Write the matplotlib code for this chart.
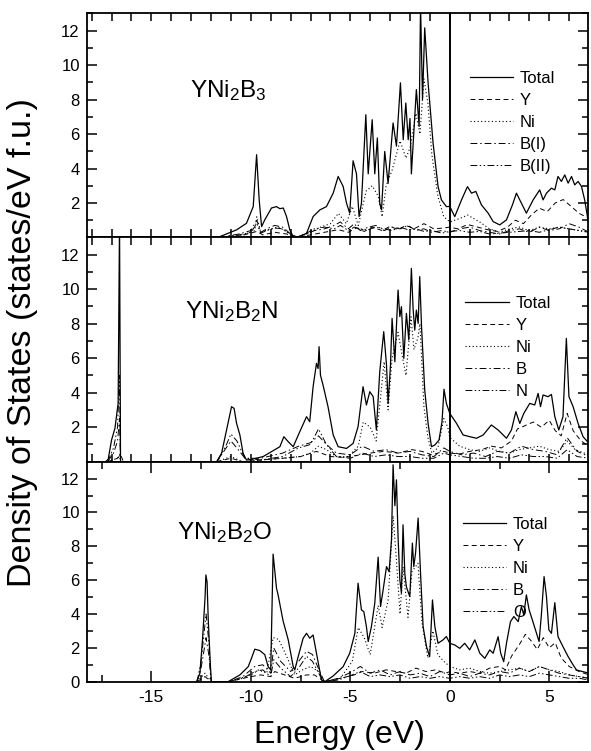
import matplotlib
matplotlib.use('Agg')
import matplotlib.pyplot as plt
from matplotlib.ticker import MultipleLocator

plt.rcParams['font.family'] = ['Liberation Sans', 'DejaVu Sans']
plt.rcParams['mathtext.fontset'] = 'custom'
plt.rcParams['mathtext.rm'] = 'Liberation Sans'
plt.rcParams['mathtext.it'] = 'Liberation Sans'
plt.rcParams['axes.unicode_minus'] = False

# ---------------- YNi2B3 ----------------
e_tot_a = [-11.66, -10.72, -10.22, -9.88, -9.71, -9.58, -9.46, -9.30, -8.96, -8.71, -8.54, -8.37, -8.21,
           -8.04, -7.87, -7.7, -7.2, -6.87, -6.53, -6.2, -5.86, -5.61, -5.36, -5.19, -5.03, -4.86, -4.69,
           -4.56, -4.44, -4.22, -4.1, -3.9, -3.77, -3.64, -3.52, -3.43, -3.27, -3.1, -2.85, -2.68, -2.48,
           -2.34, -2.21, -2.09, -2.0, -1.93, -1.68, -1.54, -1.47, -1.37, -1.26, -1.09, -0.84, -0.59, -0.42,
           -0.17, 0.0, 0.25, 0.59, 0.89, 1.09, 1.31, 1.59, 1.93, 2.18, 2.51, 2.85, 3.15, 3.35, 3.6, 3.85,
           4.19, 4.52, 4.69, 4.86, 5.11, 5.28, 5.44, 5.61, 5.78, 5.95, 6.12, 6.28, 6.45, 6.62, 6.78, 6.95]
tot_a = [0, 0.44, 0.82, 1.79, 4.8, 2.18, 0.63, 1.02, 1.71, 1.79, 1.67, 1.71, 1.23,
         0.44, 0.05, 0.0, 0.24, 1.21, 1.6, 1.79, 2.57, 3.54, 2.96, 1.99, 1.41, 4.45, 3.69,
         1.21, 1.99, 7.12, 3.69, 6.83, 3.69, 5.77, 1.99, 1.6, 4.99, 3.14, 6.64, 5.3, 8.97,
         5.67, 7.8, 5.67, 6.9, 3.69, 8.58, 6.44, 13.5, 8.0, 12.16, 8.97, 5.48, 2.96, 2.18,
         1.79, 1.8, 1.21, 2.18, 2.95, 2.57, 2.67, 1.89, 1.41, 0.92, 0.73, 1.02, 1.89, 2.57, 1.99, 1.41,
         2.18, 2.76, 2.18, 2.57, 2.86, 2.76, 3.54, 3.25, 3.63, 3.15, 3.54, 3.05, 3.25, 2.96, 2.18, 1.0]

e_y_a = [-11.6, -10.5, -9.7, -9.4, -8.8, -8.2, -7.8, -7.0, -6.3, -5.6, -5.1, -4.7, -4.3, -3.9, -3.4,
         -3.0, -2.6, -2.2, -1.8, -1.3, -0.8, -0.3, 0.0, 0.4, 0.9, 1.4, 1.9, 2.4, 2.9, 3.3, 3.7, 4.1,
         4.5, 4.9, 5.3, 5.7, 6.1, 6.5, 7.0]
y_a = [0, 0.1, 0.35, 0.15, 0.3, 0.2, 0, 0.15, 0.3, 0.45, 0.3, 0.55, 0.35, 0.6, 0.4,
       0.65, 0.45, 0.7, 0.5, 0.8, 0.5, 0.55, 0.6, 0.5, 0.75, 0.6, 0.45, 0.35, 0.6, 1.0, 0.8, 1.3,
       1.7, 1.5, 2.0, 2.2, 1.8, 1.4, 1.1]

e_ni_a = [-11.6, -10.5, -9.8, -9.7, -9.5, -9.0, -8.6, -8.0, -7.6, -7.0, -6.5, -6.0, -5.6, -5.2, -4.9,
          -4.6, -4.2, -3.9, -3.6, -3.4, -3.2, -2.9, -2.5, -2.2, -2.0, -1.7, -1.5, -1.3, -1.1, -0.9,
          -0.6, -0.3, 0.0, 0.5, 0.9, 1.5, 2.0, 2.5, 3.0, 3.5, 4.0, 4.5, 5.0, 5.5, 6.0, 6.5, 7.0]
ni_a = [0, 0.1, 0.4, 1.2, 0.3, 0.5, 0.6, 0.2, 0, 0.3, 0.6, 0.8, 1.4, 0.8, 1.8,
        0.7, 2.7, 3.0, 2.4, 1.2, 3.0, 3.9, 5.6, 4.6, 5.2, 7.2, 6.0, 9.2, 7.8, 4.8,
        2.4, 1.2, 0.9, 1.1, 1.3, 0.9, 0.5, 0.3, 0.5, 0.6, 0.4, 0.6, 0.5, 0.6, 0.5, 0.4, 0.3]

e_b_a = [-11.6, -10.6, -10.0, -9.7, -9.5, -9.2, -8.8, -8.4, -8.0, -7.7, -7.2, -6.8, -6.3, -5.8, -5.5,
         -5.1, -4.8, -4.5, -4.1, -3.7, -3.3, -2.9, -2.5, -2.1, -1.7, -1.3, -0.9, -0.4, 0.0, 0.5, 1.0,
         1.5, 2.0, 2.5, 3.0, 3.5, 4.0, 4.5, 5.0, 5.5, 6.0, 6.5, 7.0]
b1_a = [0, 0.2, 0.4, 1.0, 0.3, 0.5, 0.7, 0.6, 0.2, 0, 0.2, 0.4, 0.5, 0.7, 0.9,
        0.5, 0.8, 0.4, 0.6, 0.7, 0.4, 0.6, 0.5, 0.7, 0.4, 0.5, 0.3, 0.4, 0.3, 0.5, 0.6,
        0.4, 0.3, 0.2, 0.4, 0.5, 0.3, 0.6, 0.4, 0.5, 0.8, 0.6, 0.3]
b2_a = [0, 0.15, 0.3, 0.8, 0.25, 0.4, 0.55, 0.5, 0.15, 0, 0.25, 0.5, 0.6, 0.5, 0.7,
        0.4, 0.6, 0.5, 0.45, 0.6, 0.5, 0.4, 0.6, 0.45, 0.5, 0.35, 0.4, 0.25, 0.35, 0.4, 0.3,
        0.35, 0.2, 0.25, 0.3, 0.35, 0.4, 0.3, 0.45, 0.6, 0.5, 0.4, 0.3]

# ---------------- YNi2B2N ----------------
e_tot_b = [-17.3, -17.17, -17.0, -16.83, -16.67, -16.6, -16.55, -11.72, -11.47, -11.22, -10.97, -10.84,
           -10.72, -10.55, -10.39, -10.22, -9.9, -9.38, -8.54, -8.34, -8.12, -7.87, -7.54, -7.2, -7.04,
           -6.87, -6.7, -6.62, -6.57, -6.5, -6.37, -6.12, -5.86, -5.61, -5.19, -4.86, -4.61, -4.36, -4.19,
           -4.02, -3.85, -3.69, -3.52, -3.32, -3.18, -3.1, -2.98, -2.9, -2.76, -2.6, -2.51, -2.43, -2.31,
           -2.18, -2.06, -1.93, -1.84, -1.76, -1.68, -1.59, -1.51, -1.42, -1.26, -1.09, -0.92, -0.75,
           -0.54, -0.39, -0.29, -0.17, 0.0, 0.34, 0.67, 1.01, 1.34, 1.68, 2.09, 2.43, 2.85, 3.1, 3.32,
           3.52, 3.72, 4.02, 4.27, 4.44, 4.56, 4.69, 4.94, 5.11, 5.28, 5.48, 5.69, 5.86, 5.99, 6.2,
           6.45, 6.7, 7.0]
tot_b = [0, 0.14, 1.26, 1.94, 3.39, 14, 0, 0, 0.49, 1.84, 3.19, 3.09,
         2.24, 1.55, 0.49, 0.1, 0.15, 0.3, 0.87, 1.45, 1.16, 0.87, 1.74, 2.61, 2.32,
         4.35, 5.7, 5.4, 6.67, 5.02, 4.44, 3.19, 1.55, 0.87, 0.77, 1.06, 2.03, 4.35, 3.29,
         4.06, 3.77, 1.84, 5.21, 7.54, 5.6, 3.38, 5.6, 8.31, 5.79, 9.95, 8.41, 8.99, 5.99,
         8.6, 7.06, 11.21, 8.79, 7.63, 8.79, 8.02, 10.73, 7.83, 4.16, 2.22, 0.87, 0.97,
         1.26, 2.32, 4.2, 3.38, 2.8, 2.22, 1.55, 1.45, 1.36, 1.55, 2.13, 1.84, 1.36, 1.84, 2.9,
         2.22, 2.8, 3.38, 3.29, 3.96, 3.19, 3.87, 3.77, 3.9, 2.61, 1.84, 2.61, 7.15, 3.77, 3.19,
         2.22, 1.45, 1.06]

e_y_b = [-17.2, -16.7, -16.55, -16.4, -11.7, -11.0, -10.4, -9.5, -8.4, -7.5, -6.7, -6.0, -5.3, -4.5,
         -4.0, -3.3, -2.6, -1.9, -1.4, -0.9, -0.3, 0.0, 0.5, 1.0, 1.6, 2.1, 2.6, 3.1, 3.4, 3.8, 4.2,
         4.6, 5.0, 5.3, 5.6, 5.9, 6.2, 6.6, 7.0]
y_b = [0, 0.2, 0.4, 0, 0, 0.2, 0, 0.1, 0.2, 0.3, 0.6, 0.3, 0.25, 0.4,
       0.5, 0.6, 0.5, 0.7, 0.6, 0.4, 0.6, 0.5, 0.45, 0.6, 0.7, 0.9, 0.8, 1.2, 1.9, 2.1, 2.3,
       2.0, 2.4, 1.8, 1.5, 2.8, 1.8, 1.2, 0.9]

e_ni_b = [-17.2, -16.7, -16.6, -16.55, -11.7, -11.0, -10.4, -9.5, -8.4, -7.5, -7.0, -6.6, -6.2, -5.7,
          -5.1, -4.6, -4.35, -4.0, -3.7, -3.5, -3.3, -3.1, -2.9, -2.6, -2.4, -2.2, -1.95, -1.8, -1.6,
          -1.5, -1.3, -1.1, -0.9, -0.6, -0.3, -0.1, 0.0, 0.5, 1.0, 1.5, 2.0, 2.5, 3.0, 3.5, 4.0, 4.5,
          5.0, 5.5, 5.9, 6.3, 7.0]
ni_b = [0, 0.2, 0.4, 0, 0, 0.3, 0, 0.1, 0.2, 0.3, 0.5, 0.9, 0.7, 0.3,
        0.3, 0.9, 2.3, 2.0, 1.2, 3.5, 5.8, 3.0, 6.0, 7.5, 6.2, 5.0, 8.4, 6.5, 7.2,
        8.0, 3.2, 1.4, 0.5, 0.8, 2.5, 2.0, 1.4, 0.9, 0.7, 0.6, 0.8, 0.6, 0.5, 0.7, 0.8, 0.9,
        0.7, 0.6, 1.2, 0.7, 0.4]

e_bn_b = [-17.2, -16.9, -16.7, -16.6, -16.55, -11.7, -11.3, -11.0, -10.7, -10.3, -9.5, -8.4, -7.6,
          -7.0, -6.6, -6.2, -5.7, -5.0, -4.4, -3.8, -3.2, -2.6, -2.0, -1.4, -0.8, -0.3, 0.0, 0.6,
          1.2, 1.8, 2.4, 3.0, 3.6, 4.2, 4.8, 5.4, 5.9, 6.4, 7.0]
b_b = [0, 0.5, 1.2, 2.5, 0, 0, 0.7, 1.2, 0.8, 0.2, 0.2, 0.5, 0.9,
       1.1, 1.5, 1.0, 0.5, 0.4, 0.9, 0.6, 0.7, 0.5, 0.6, 0.4, 0.3, 0.8, 0.6, 0.4,
       0.5, 0.3, 0.6, 0.5, 0.9, 0.7, 0.6, 0.4, 1.4, 0.6, 0.3]
n_b = [0, 0.8, 2.0, 5.0, 0, 0, 0.8, 1.6, 1.2, 0.2, 0.1, 0.3, 0.8,
       1.0, 1.9, 1.0, 0.3, 0.2, 0.5, 0.3, 0.4, 0.3, 0.3, 0.2, 0.2, 0.5, 0.4, 0.3,
       0.2, 0.2, 0.3, 0.2, 0.4, 0.3, 0.3, 0.2, 0.7, 0.3, 0.2]

# ---------------- YNi2B2O ----------------
e_tot_c = [-12.73, -12.56, -12.43, -12.3, -12.26, -12.2, -12.14, -12.03, -11.98, -11.14, -10.55, -10.13,
           -9.97, -9.8, -9.55, -9.3, -9.13, -9.0, -8.88, -8.71, -8.63, -8.38, -8.12, -7.87, -7.79,
           -7.62, -7.37, -7.2, -7.04, -6.87, -6.7, -6.45, -6.28, -5.86, -5.36, -5.03, -4.77, -4.61,
           -4.44, -4.32, -4.19, -4.1, -3.94, -3.77, -3.6, -3.48, -3.35, -3.18, -3.05, -2.93, -2.85,
           -2.76, -2.68, -2.6, -2.51, -2.43, -2.35, -2.26, -2.18, -2.01, -1.88, -1.81, -1.72, -1.59,
           -1.47, -1.34, -1.17, -1.01, -0.87, -0.75, -0.59, -0.34, -0.17, 0.0, 0.25, 0.5, 0.75, 1.0,
           1.26, 1.51, 1.76, 2.01, 2.18, 2.43, 2.56, 2.71, 2.85, 3.05, 3.22, 3.44, 3.6, 3.72, 3.85,
           3.99, 4.15, 4.36, 4.49, 4.61, 4.74, 4.86, 4.98, 5.11, 5.28, 5.44, 5.69, 5.95, 6.2, 6.37, 7.0]
tot_c = [0, 0.5, 2.47, 5.0, 6.31, 5.9, 3.65, 0.89, 0, 0, 0.4, 0.89,
         1.38, 1.92, 1.84, 1.6, 0.89, 0.7, 7.54, 5.53, 5.13, 3.6, 2.47, 0.89, 0.7,
         1.48, 2.57, 2.86, 2.57, 2.76, 1.68, 0.1, 0, 0.34, 0.89, 1.68, 2.86, 5.82,
         4.24, 4.14, 3.25, 2.37, 3.25, 4.64, 7.36, 4.44, 5.43, 6.8, 6.5, 8.38, 12.82,
         10.4, 11.93, 8.58, 6.02, 5.23, 9.27, 6.4, 5.6, 5.03, 8.19, 6.8, 7.6, 9.67,
         6.4, 3.25, 2.07, 1.48, 4.83, 3.25, 2.27, 2.47, 2.67, 2.27, 2.17, 1.97, 2.27, 1.88,
         2.47, 1.68, 1.38, 1.88, 1.68, 2.66, 1.68, 1.18, 2.27, 3.55, 3.85, 3.55, 4.44, 3.95, 5.13,
         4.24, 3.65, 2.86, 2.37, 4.04, 6.21, 5.03, 3.06, 2.86, 4.67, 2.66, 2.07, 1.48, 0.99, 0.69, 0.5]

e_y_c = [-12.7, -12.3, -12.0, -11.1, -10.0, -9.5, -9.0, -8.8, -8.3, -7.8, -7.2, -6.8, -6.3, -5.5,
         -4.8, -4.4, -3.8, -3.2, -2.7, -2.2, -1.7, -1.2, -0.7, -0.2, 0.0, 0.5, 1.0, 1.5, 2.0, 2.5,
         2.8, 3.1, 3.5, 3.8, 4.1, 4.4, 4.7, 5.0, 5.3, 5.6, 6.0, 6.5, 7.0]
y_c = [0, 0.3, 0, 0, 0.3, 0.4, 0.3, 0.6, 0.4, 0.2, 0.4, 0.4, 0, 0.2,
       0.4, 0.6, 0.5, 0.7, 0.6, 0.5, 0.8, 0.6, 0.7, 0.5, 0.6, 0.5, 0.6, 0.5, 0.8, 0.9,
       0.7, 1.5, 2.2, 2.8, 2.4, 1.9, 2.6, 2.0, 2.3, 1.4, 0.9, 0.6, 0.4]

e_ni_c = [-12.7, -12.3, -12.0, -11.1, -10.0, -9.6, -9.2, -8.88, -8.6, -8.2, -7.8, -7.4, -7.0, -6.6,
          -6.3, -5.5, -4.9, -4.6, -4.3, -4.0, -3.6, -3.4, -3.1, -2.85, -2.7, -2.5, -2.35, -2.1, -1.9,
          -1.6, -1.4, -1.1, -0.85, -0.6, -0.3, 0.0, 0.5, 1.0, 1.5, 2.0, 2.5, 3.0, 3.5, 4.0, 4.5, 5.0,
          5.5, 6.0, 6.5, 7.0]
ni_c = [0, 0.5, 0, 0, 0.4, 0.7, 0.5, 2.6, 2.5, 1.5, 0.4, 0.7, 0.9, 0.6,
        0, 0.2, 1.2, 3.2, 2.6, 1.6, 4.5, 3.2, 4.8, 9.8, 7.5, 4.0, 6.8, 3.8, 6.5,
        7.0, 3.5, 1.4, 3.0, 1.6, 1.2, 0.9, 0.7, 0.8, 0.6, 0.5, 0.6, 0.7, 0.8, 0.6, 0.9, 0.7,
        0.6, 0.4, 0.3, 0.2]

e_bo_c = [-12.7, -12.5, -12.25, -12.1, -12.0, -11.1, -10.4, -9.8, -9.4, -9.0, -8.85, -8.5, -8.0, -7.6,
          -7.2, -6.9, -6.5, -6.3, -5.6, -4.9, -4.5, -4.0, -3.5, -3.0, -2.5, -2.0, -1.5, -1.0, -0.5,
          0.0, 0.5, 1.0, 1.5, 2.0, 2.5, 3.0, 3.5, 4.0, 4.5, 5.0, 5.5, 6.0, 6.5, 7.0]
b_c = [0, 0.8, 2.6, 1.5, 0, 0, 0.3, 0.9, 1.0, 0.5, 2.0, 1.2, 0.6, 1.2,
       1.8, 1.6, 0.5, 0, 0.2, 0.6, 0.9, 0.5, 0.7, 0.4, 0.6, 0.4, 0.5, 0.3, 0.6,
       0.4, 0.5, 0.3, 0.5, 0.4, 0.6, 0.5, 0.8, 0.6, 0.9, 0.7, 0.5, 0.4, 0.3, 0.2]
o_c = [0, 1.2, 4.0, 2.2, 0, 0, 0.2, 0.6, 0.7, 0.3, 1.3, 0.8, 0.3, 0.8,
       1.5, 1.2, 0.3, 0, 0.1, 0.4, 0.6, 0.3, 0.4, 0.3, 0.4, 0.2, 0.3, 0.2, 0.3,
       0.2, 0.3, 0.2, 0.3, 0.2, 0.4, 0.3, 0.4, 0.3, 0.5, 0.4, 0.3, 0.2, 0.2, 0.1]

compounds = [r'YNi$_2$B$_3$', r'YNi$_2$B$_2$N', r'YNi$_2$B$_2$O']
labels_a = ['Total', 'Y', 'Ni', 'B(I)', 'B(II)']
labels_b = ['Total', 'Y', 'Ni', 'B', 'N']
labels_c = ['Total', 'Y', 'Ni', 'B', 'O']

STYLES = ['-', (0, (5, 3.5)), (0, (1, 2.2)), (0, (7, 3, 1.5, 3)), (0, (7, 2.5, 1.5, 2.5, 1.5, 2.5))]
WIDTHS = [0.9, 0.7, 0.8, 0.7, 0.7]

XMIN, XMAX = -18.25, 6.95
L, W = 0.1467, 0.8483

fig = plt.figure(figsize=(5.91, 7.51), dpi=100)
ax_a = fig.add_axes([L, 0.6838, W, 0.2984])
ax_b = fig.add_axes([L, 0.3852, W, 0.2986])
ax_c = fig.add_axes([L, 0.0923, W, 0.2929])

panels = [
    (ax_a, [(e_tot_a, tot_a), (e_y_a, y_a), (e_ni_a, ni_a), (e_b_a, b1_a), (e_b_a, b2_a)], labels_a,
     (-13.07, 8.17), (0.7646, 0.743)),
    (ax_b, [(e_tot_b, tot_b), (e_y_b, y_b), (e_ni_b, ni_b), (e_bn_b, b_b), (e_bn_b, n_b)], labels_b,
     (-13.3, 8.33), (0.755, 0.738)),
    (ax_c, [(e_tot_c, tot_c), (e_y_c, y_c), (e_ni_c, ni_c), (e_bo_c, b_c), (e_bo_c, o_c)], labels_c,
     (-13.73, 8.4), (0.7507, 0.750)),
]

for i, (ax, series, labels, txt_pos, leg_pos) in enumerate(panels):
    handles = []
    for (e, d), ls, lw, lab in zip(series, STYLES, WIDTHS, labels):
        h, = ax.plot(e, d, color='black', linestyle=ls, lw=lw, label=lab)
        handles.append(h)
    ax.axvline(0, color='black', lw=1.4)
    ax.set_xlim(XMIN, XMAX)
    ax.set_ylim(0, 13)
    ax.text(txt_pos[0], txt_pos[1], compounds[i], fontsize=17.5, ha='left', va='baseline')
    ax.legend(handles=handles, loc='upper left', bbox_to_anchor=leg_pos, frameon=False,
              fontsize=12, handlelength=2.6, handletextpad=0.4, labelspacing=0.42,
              borderpad=0, borderaxespad=0)

    for sp in ax.spines.values():
        sp.set_linewidth(1.3)
    if i < 2:
        ax.set_yticks([2, 4, 6, 8, 10, 12])
        ax.xaxis.set_major_locator(MultipleLocator(1))
        ax.tick_params(axis='x', which='major', labelbottom=False, length=6)
    else:
        ax.set_yticks([0, 2, 4, 6, 8, 10, 12])
        ax.xaxis.set_major_locator(MultipleLocator(5))
        ax.xaxis.set_minor_locator(MultipleLocator(2.5))
        ax.tick_params(axis='x', which='major', length=8, labelsize=12.5, pad=6)
        ax.tick_params(axis='x', which='minor', length=5)
    ax.yaxis.set_minor_locator(MultipleLocator(1))
    ax.tick_params(which='both', direction='in', top=True, right=True, width=1.1)
    ax.tick_params(axis='y', which='major', length=7, labelsize=12, pad=5)
    ax.tick_params(axis='y', which='minor', length=4)

fig.text(0.038, 0.544, 'Density of States (states/eV f.u.)', rotation=90,
         ha='center', va='center', fontsize=24.5)
fig.text(0.575, 0.021, 'Energy (eV)', ha='center', va='center', fontsize=23)

fig.savefig('out.png', dpi=100, facecolor='white')
